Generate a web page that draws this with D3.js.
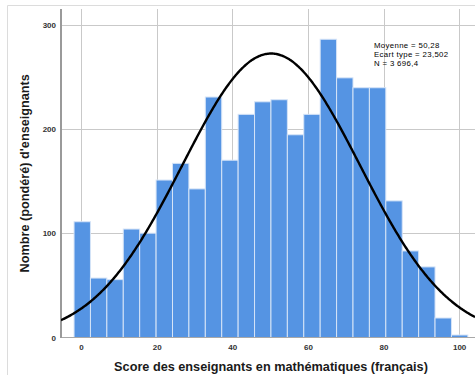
<!DOCTYPE html>
<html>
<head>
<meta charset="utf-8">
<script src="https://cdn.jsdelivr.net/npm/d3@7"></script>
<style>
  html, body { margin: 0; padding: 0; background: #fff; }
  svg { display: block; font-family: "Liberation Sans", Arial, sans-serif; }
</style>
</head>
<body>
<svg id="chart" width="475" height="375"></svg>
<script>
// Histogram of teacher scores with fitted normal curve
const binStart = -1.85;          // left edge of first bin
const binWidth = 4.34;           // width of each bin (score units)
const counts = [111, 57, 55.5, 104, 100, 151, 167, 142.5, 230.6, 170, 214, 226,
                228, 194.4, 214, 286, 249, 239.5, 239.5, 131, 83, 67.7, 18.7, 2.4];
const xTicks = [0, 20, 40, 60, 80, 100];
const yTicks = [0, 100, 200, 300];
const xLimits = [-5.3, 104.2];
const yLimits = [0, 315];
const stats = { mean: 50.28, sd: 23.502, n: 3696.4 };
const statLines = ["Moyenne = 50,28", "Ecart type = 23,502", "N = 3 696,4"];
const xTitle = "Score des enseignants en mathématiques (français)";
const yTitle = "Nombre (pondéré) d'enseignants";

const svg = d3.select("#chart");
const W = 475, H = 375;
const plot = { left: 61, right: 475, top: 9, bottom: 337.5 };

const x = d3.scaleLinear().domain(xLimits).range([plot.left, plot.right]);
const y = d3.scaleLinear().domain(yLimits).range([plot.bottom, plot.top]);

// outer frame
svg.append("path")
  .attr("d", `M7.5,${H} V5.5 H${W}`)
  .attr("fill", "none").attr("stroke", "#dcdcdc").attr("stroke-width", 1);

svg.append("defs").append("clipPath").attr("id", "plotClip")
  .append("rect").attr("x", plot.left).attr("y", plot.top)
  .attr("width", plot.right - plot.left).attr("height", plot.bottom - plot.top);

// gridlines
const grid = svg.append("g").attr("stroke", "#c9c9c9").attr("stroke-width", 1);
grid.selectAll("line.v").data(xTicks).join("line")
  .attr("x1", d => Math.round(x(d)) + 0.5).attr("x2", d => Math.round(x(d)) + 0.5)
  .attr("y1", plot.top).attr("y2", plot.bottom);
grid.selectAll("line.h").data(yTicks.filter(d => d > 0)).join("line")
  .attr("x1", plot.left).attr("x2", plot.right)
  .attr("y1", d => Math.round(y(d)) + 0.5).attr("y2", d => Math.round(y(d)) + 0.5);

// bars
const bins = counts.map((c, i) => ({ x0: binStart + i * binWidth, x1: binStart + (i + 1) * binWidth, c }));
svg.append("g").selectAll("rect").data(bins).join("rect")
  .attr("x", d => x(d.x0))
  .attr("width", d => x(d.x1) - x(d.x0))
  .attr("y", d => y(d.c))
  .attr("height", d => y(0) - y(d.c))
  .attr("fill", "#5594e3")
  .attr("stroke", "#d6e4f7")
  .attr("stroke-width", 1);

// axes lines
svg.append("line")
  .attr("x1", plot.left).attr("x2", plot.right)
  .attr("y1", plot.bottom).attr("y2", plot.bottom)
  .attr("stroke", "#a8a8a8").attr("stroke-width", 1.2);
svg.append("line")
  .attr("x1", plot.left).attr("x2", plot.left)
  .attr("y1", plot.top).attr("y2", plot.bottom + 0.5)
  .attr("stroke", "#9a9a9a").attr("stroke-width", 2);

// normal curve scaled to counts
const scale = stats.n * binWidth / (stats.sd * Math.sqrt(2 * Math.PI));
const pts = d3.range(xLimits[0], xLimits[1] + 0.01, 0.25).map(v => {
  const z = (v - stats.mean) / stats.sd;
  return [v, scale * Math.exp(-0.5 * z * z)];
});
svg.append("path")
  .attr("clip-path", "url(#plotClip)")
  .attr("d", d3.line().x(d => x(d[0])).y(d => y(d[1])).curve(d3.curveBasis)(pts))
  .attr("fill", "none").attr("stroke", "#000").attr("stroke-width", 2.4);

// tick labels
const xAxis = d3.axisBottom(x).tickValues(xTicks).tickSize(0).tickPadding(7);
svg.append("g").attr("transform", `translate(0,${plot.bottom})`).call(xAxis)
  .call(g => g.select(".domain").remove())
  .selectAll("text").attr("font-size", 8).attr("font-weight", "bold").attr("fill", "#333")
  .attr("font-family", "Liberation Sans, Arial, sans-serif");
const yAxis = d3.axisLeft(y).tickValues(yTicks).tickSize(0).tickPadding(5);
svg.append("g").attr("transform", `translate(${plot.left},0)`).call(yAxis)
  .call(g => g.select(".domain").remove())
  .selectAll("text").attr("font-size", 8).attr("font-weight", "bold").attr("fill", "#333")
  .attr("font-family", "Liberation Sans, Arial, sans-serif");

// statistics annotation
svg.append("g").selectAll("text").data(statLines).join("text")
  .attr("x", 374).attr("y", (d, i) => 47.8 + i * 9)
  .attr("font-size", 7.8).attr("letter-spacing", 0.35)
  .attr("fill", "#000").text(d => d);

// axis titles
svg.append("text")
  .attr("x", 271).attr("y", 370.5).attr("text-anchor", "middle")
  .attr("font-size", 12.7).attr("font-weight", "bold").attr("fill", "#1a1a1a")
  .text(xTitle);
svg.append("text")
  .attr("transform", `translate(29,${(plot.top + plot.bottom) / 2}) rotate(-90)`)
  .attr("text-anchor", "middle")
  .attr("font-size", 12.7).attr("font-weight", "bold").attr("fill", "#1a1a1a")
  .text(yTitle);
</script>
</body>
</html>
